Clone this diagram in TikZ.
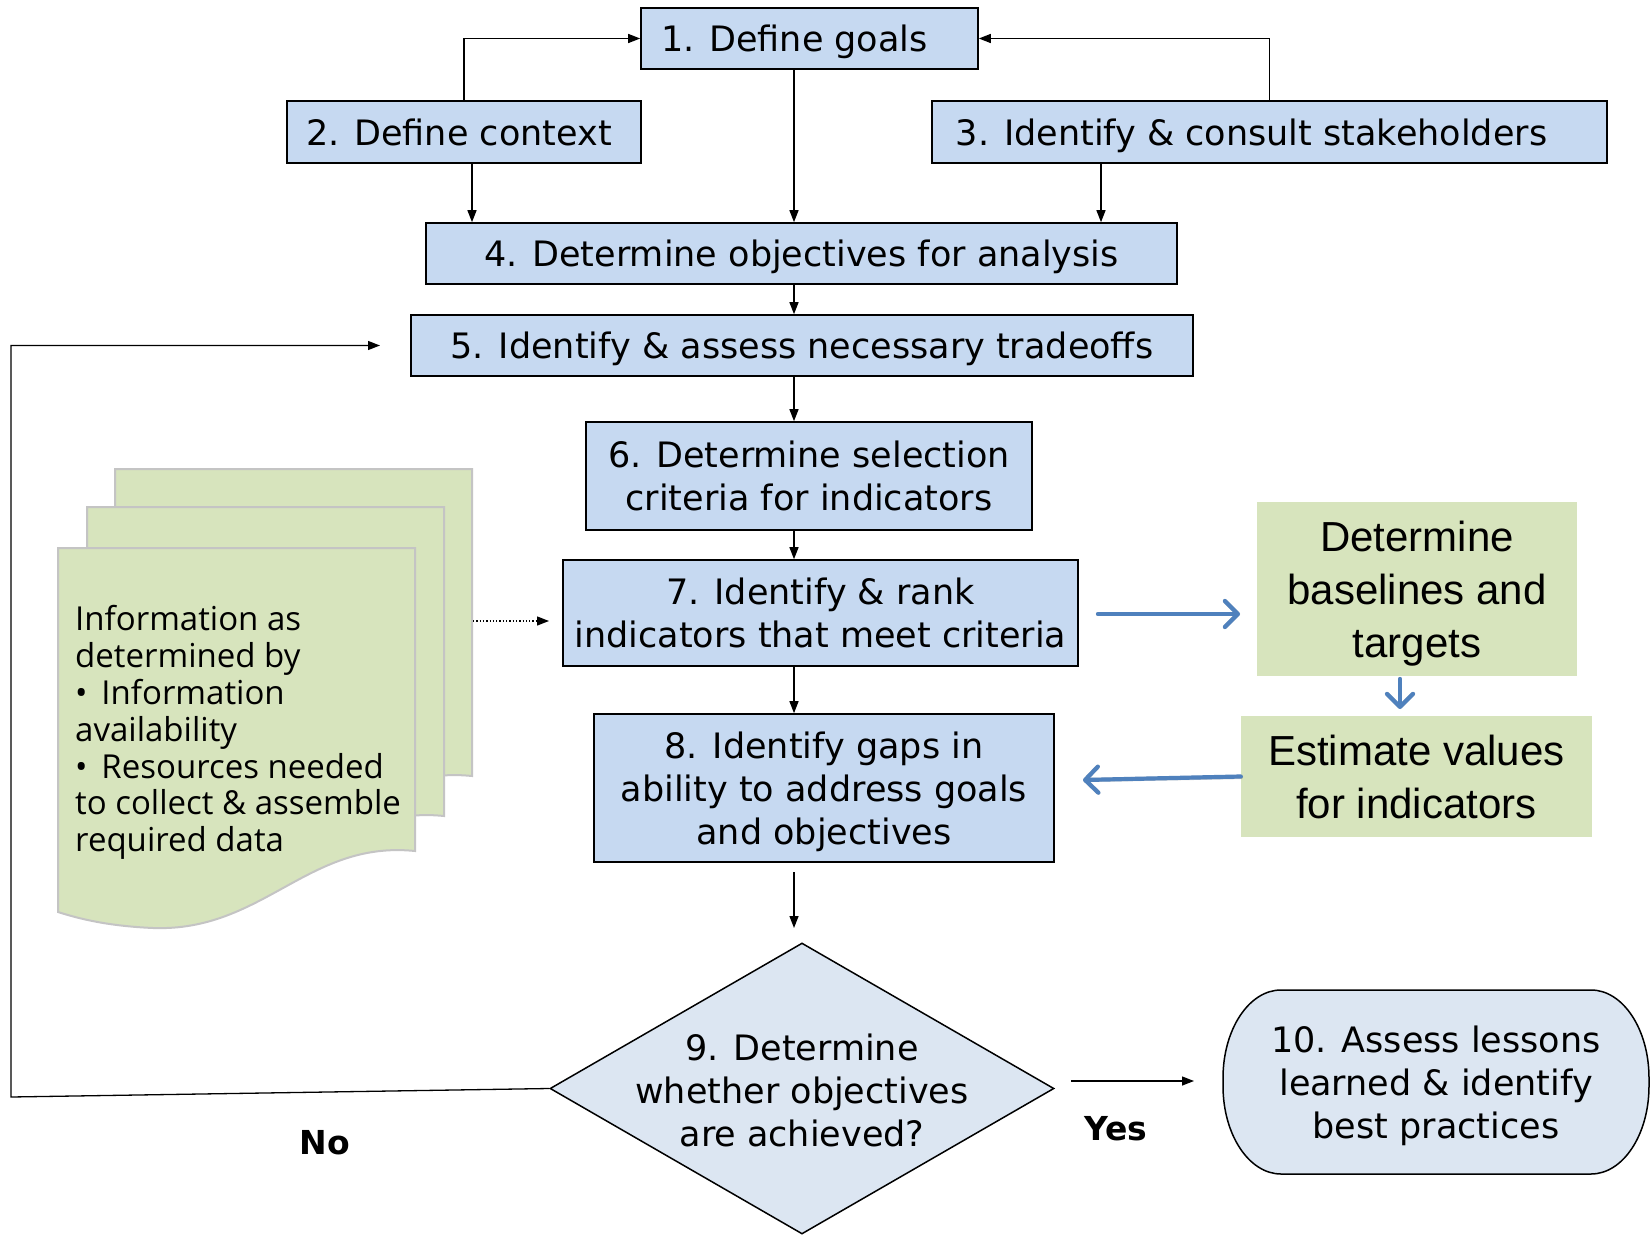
\documentclass[tikz,border=0pt]{standalone}
\usepackage{fontspec}
\setmainfont{DejaVu Sans}
\newfontfamily\greenfont{Liberation Sans}
\newfontfamily\docfont{Open Sans}
\usetikzlibrary{arrows.meta,shapes.geometric}
\definecolor{boxblue}{HTML}{C6D9F1}
\definecolor{lightblue}{HTML}{DCE6F2}
\definecolor{paleg}{HTML}{D7E4BD}
\definecolor{docedge}{HTML}{C4C4C4}
\definecolor{arrowblue}{HTML}{4F81BD}
\begin{document}
\begin{tikzpicture}[x=1pt,y=-1pt,
  stepbox/.style={draw=black, line width=1.6pt, fill=boxblue, inner sep=0pt, align=center, text depth=0pt, font=\fontsize{35}{43}\selectfont},
  greenbox/.style={fill=paleg, inner sep=0pt, align=center, text depth=0pt, font=\greenfont\fontsize{42}{53}\selectfont},
  arr/.style={line width=1.3pt, -{Triangle[length=12pt,width=9pt]}},
  bluearr/.style={line width=4.2pt, arrowblue, line cap=round, -{Straight Barb[round,length=13pt,width=26pt,line width=4.2pt]}},
  blueshadow/.style={line width=4.2pt, black, opacity=0.18, line cap=round, -{Straight Barb[round,length=13pt,width=26pt,line width=4.2pt]}},
  docpage/.style={fill=paleg, draw=docedge, line width=2pt},
  lbl/.style={font=\bfseries\fontsize{33}{40}\selectfont, inner sep=0pt},
]
\useasboundingbox (0,0) rectangle (1651,1238);
\fill[white] (0,0) rectangle (1651,1238);

% document stack
\foreach \dx/\dy/\e in {57/-79/4, 29/-41/6, 0/0/0} {
  \path[docpage, shift={(58+\dx,548+\dy)}]
    (0,0) -- (357,0) -- (357,303+\e)
    .. controls (250,292+\e) and (205,384+\e) .. (95,380+\e)
    .. controls (50,378+\e) and (22,371+\e) .. (0,364+\e) -- cycle;
}
\node[anchor=north west, align=left, inner sep=0pt, font=\docfont\fontsize{33}{36.9}\selectfont] (doctext) at (75,605)
  {Information as\\determined by\\•\hspace{0.42em}Information\\availability\\•\hspace{0.42em}Resources needed\\to collect \& assemble\\required data};

% step boxes
\node[stepbox, minimum width=337pt, minimum height=61pt] (b1) at (809.5,38.5) {1. Define goals\hspace*{30pt}};
\node[stepbox, minimum width=354pt, minimum height=62pt] (b2) at (464,132) {2. Define context\hspace*{10pt}};
\node[stepbox, minimum width=675pt, minimum height=62pt] (b3) at (1269.5,132) {3. Identify \& consult stakeholders\hspace*{36pt}};
\node[stepbox, minimum width=751pt, minimum height=61pt] (b4) at (801.5,253.5) {4. Determine objectives for analysis};
\node[stepbox, minimum width=782pt, minimum height=61pt] (b5) at (802,345.5) {5. Identify \& assess necessary tradeoffs};
\node[stepbox, minimum width=446pt, minimum height=108pt] (b6) at (809,476) {6. Determine selection\\criteria for indicators};
\node[stepbox, minimum width=515pt, minimum height=106pt] (b7) at (820.5,613) {7. Identify \& rank\\indicators that meet criteria};
\node[stepbox, minimum width=460pt, minimum height=148pt] (b8) at (824,788) {8. Identify gaps in\\ability to address goals\\and objectives};

% decision
\node[diamond, draw=black, line width=1.5pt, fill=lightblue, minimum width=504pt, minimum height=291pt, inner sep=0pt] (d9) at (802,1088.5) {};
\node[align=center, inner sep=0pt, text depth=0pt, font=\fontsize{35}{43}\selectfont] (d9t) at (802,1090) {9. Determine\\whether objectives\\are achieved?};

% terminator (rounded outline with elliptical corners)
\path[draw=black, line width=1.5pt, fill=lightblue]
  (1281,990) -- (1591,990) .. controls (1623,990) and (1649,1029.4) .. (1649,1078)
  -- (1649,1086) .. controls (1649,1134.6) and (1623,1174) .. (1591,1174)
  -- (1281,1174) .. controls (1249,1174) and (1223,1134.6) .. (1223,1086)
  -- (1223,1078) .. controls (1223,1029.4) and (1249,990) .. (1281,990) -- cycle;
\node[minimum width=426pt, minimum height=184pt, inner sep=0pt, align=center, text depth=0pt, font=\fontsize{35}{43}\selectfont] (b10) at (1436,1082)
  {10. Assess lessons\\learned \& identify\\best practices};

% green boxes
\node[greenbox, minimum width=320pt, minimum height=174pt] (g1) at (1417,589) {Determine\\baselines and\\targets};
\node[greenbox, minimum width=351pt, minimum height=121pt] (g2) at (1416.5,776.5) {Estimate values\\for indicators};

% labels
\node[lbl] (yes) at (1116,1129) {Yes};
\node[lbl] (no) at (325,1143) {No};

% black connectors
\coordinate (spine) at (794,0);
\coordinate (c2) at (472,0);
\coordinate (c3) at (1101,0);
\draw[arr] (b2.north) |- (b1.west);
\draw[arr] (b3.north) |- (b1.east);
\draw[arr] (b1.south -| spine) -- (b4.north -| spine);
\draw[arr] (b2.south -| c2) -- (b4.north -| c2);
\draw[arr] (b3.south -| c3) -- (b4.north -| c3);
\draw[arr] (b4.south -| spine) -- (b5.north -| spine);
\draw[arr] (b5.south -| spine) -- (b6.north -| spine);
\draw[arr] (b6.south -| spine) -- (b7.north -| spine);
\draw[arr] (b7.south -| spine) -- (b8.north -| spine);
\coordinate (e8a) at (794,872);
\coordinate (e8b) at (794,928);
\draw[arr] (e8a) -- (e8b);

\coordinate (nl1) at (11,1097);
\coordinate (nl2) at (11,345.5);
\coordinate (nl3) at (380,345.5);
\draw[arr] (d9.west) -- (nl1) -- (nl2) -- (nl3);

\coordinate (ys1) at (1071,1081);
\coordinate (ys2) at (1194,1081);
\draw[arr] (ys1) -- (ys2);

\coordinate (dt1) at (473,621);
\coordinate (dt2) at (549,621);
\draw[line width=1.3pt, dotted, -{Triangle[length=12pt,width=9pt]}] (dt1) -- (dt2);

% blue connectors
\coordinate (ba1) at (1098,614);
\coordinate (ba2) at (1240,614);
\coordinate (bb1) at (1400,679);
\coordinate (bb2) at (1400,709);
\coordinate (bc1) at (1241,777);
\coordinate (bc2) at (1083,780);
\begin{scope}[shift={(2,3)}]
\draw[blueshadow] (ba1) -- (ba2);
\draw[blueshadow] (bb1) -- (bb2);
\draw[blueshadow] (bc1) -- (bc2);
\end{scope}
\draw[bluearr] (ba1) -- (ba2);
\draw[bluearr] (bb1) -- (bb2);
\draw[bluearr] (g2.west) -- (bc2);
\end{tikzpicture}
\end{document}
